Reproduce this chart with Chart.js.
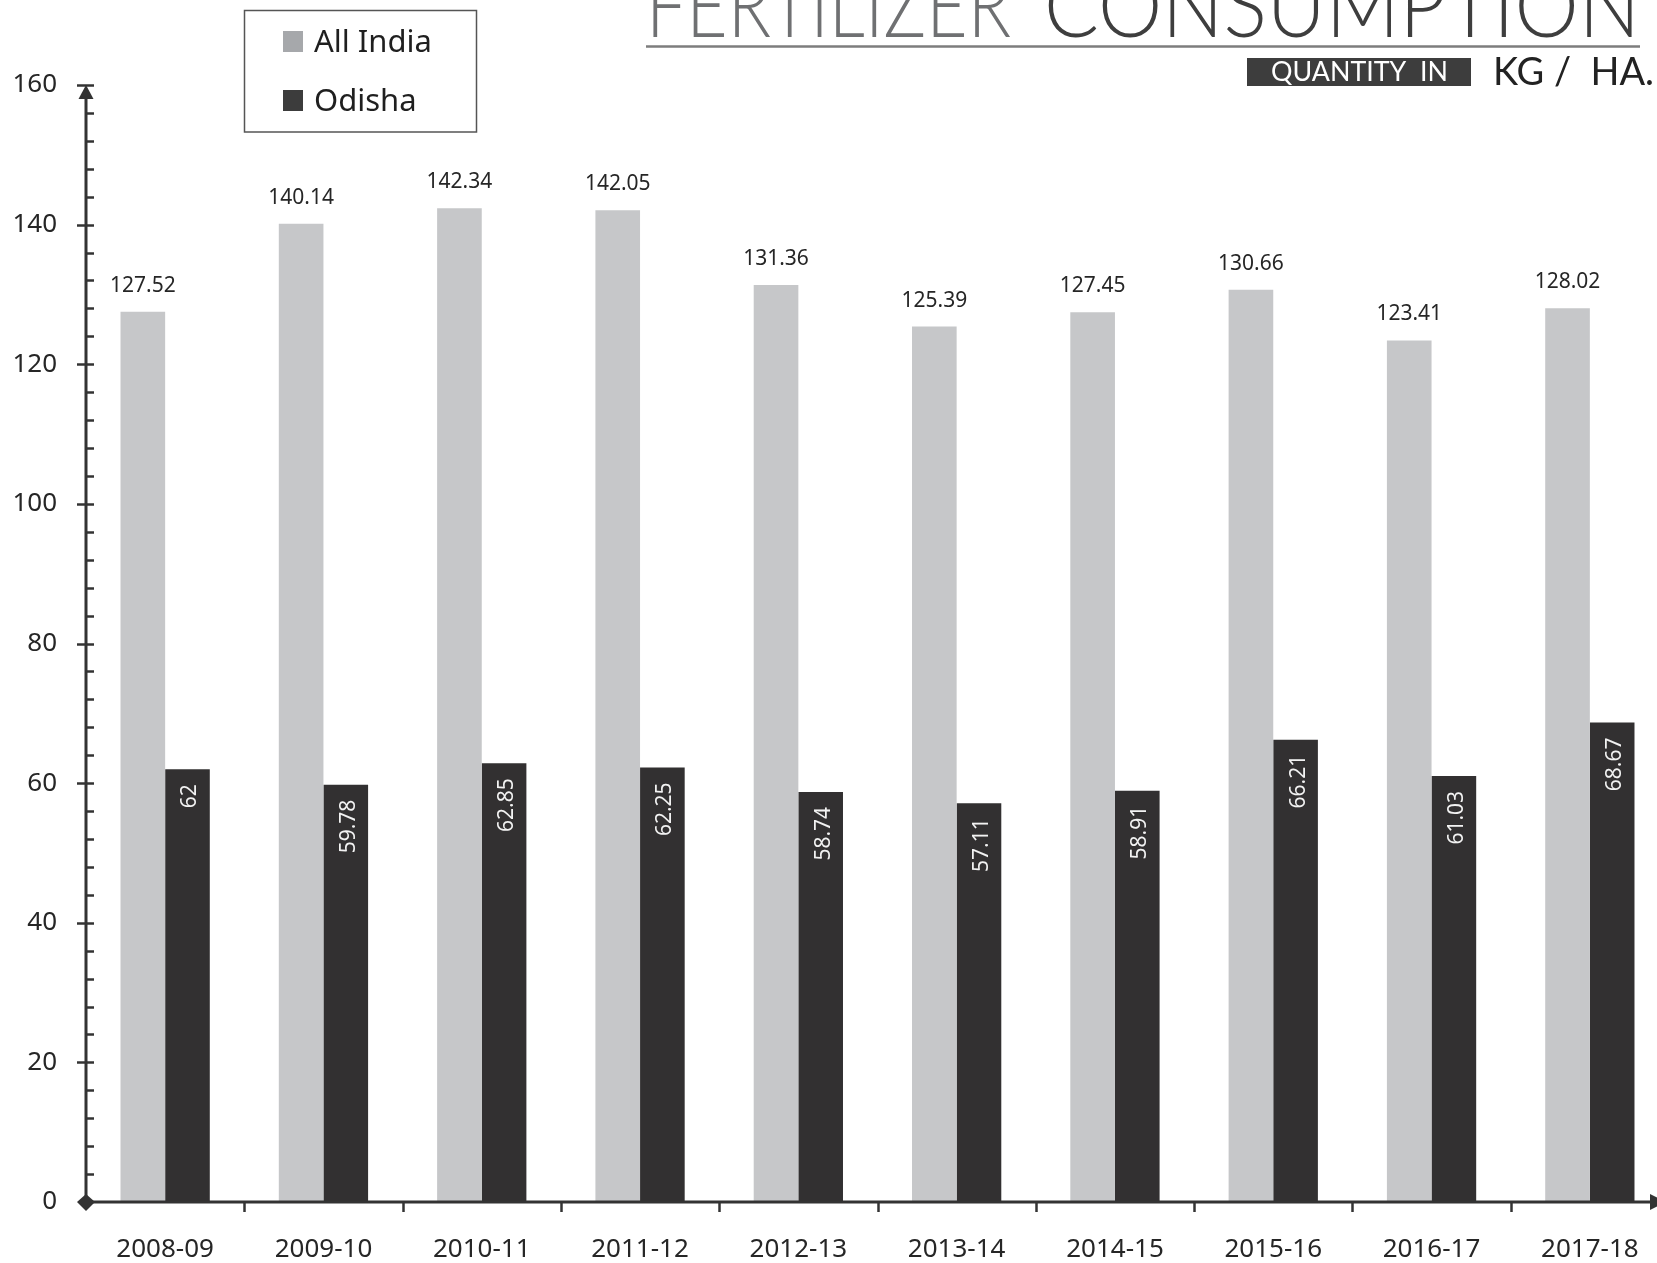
<!DOCTYPE html>
<html>
<head>
<meta charset="utf-8">
<title>Fertilizer Consumption</title>
<script src="https://cdn.jsdelivr.net/npm/chart.js@4.4.0/dist/chart.umd.min.js"></script>
<style>
  html, body { margin: 0; padding: 0; background: #fff; overflow: hidden; }
  #wrap { width: 1657px; height: 1263px; overflow: hidden; position: relative; }
  canvas { position: absolute; left: 0; top: 0; }
</style>
</head>
<body>
<div id="wrap">
  <canvas id="chart" width="1680" height="1263"></canvas>
</div>
<script>
// 資料
const years = ['2008-09', '2009-10', '2010-11', '2011-12', '2012-13', '2013-14', '2014-15', '2015-16', '2016-17', '2017-18'];
const allIndia = [127.52, 140.14, 142.34, 142.05, 131.36, 125.39, 127.45, 130.66, 123.41, 128.02];
const odisha = [62, 59.78, 62.85, 62.25, 58.74, 57.11, 58.91, 66.21, 61.03, 68.67];
const seriesNames = ['All India', 'Odisha'];
const yMax = 160;

const GREY = '#c6c7c9';
const DARK = '#323031';
const AXIS = '#333333';
const TEXT = '#262626';
const FONT = '"Noto Sans", "DejaVu Sans", sans-serif';

// 橫向壓縮文字
function condensedText(ctx, text, x, baseline, width, font, color) {
    ctx.save();
    ctx.font = font;
    ctx.fillStyle = color;
    ctx.textAlign = 'left';
    ctx.textBaseline = 'alphabetic';
    const w = ctx.measureText(text).width;
    ctx.translate(x, baseline);
    ctx.scale(width / w, 1);
    ctx.fillText(text, 0, 0);
    ctx.restore();
}

// 標題、圖例、軸線和數值標籤
const decorations = {
    id: 'decorations',
    afterDatasetsDraw(chart) {
        const ctx = chart.ctx;
        const area = chart.chartArea;
        const x = chart.scales.x;
        const y = chart.scales.y;
        const y0 = y.getPixelForValue(0);
        const yTop = y.getPixelForValue(yMax);

        // 數值標籤
        ctx.save();
        ctx.font = '21px ' + FONT;
        const m0 = chart.getDatasetMeta(0);
        m0.data.forEach((bar, i) => {
            ctx.fillStyle = TEXT;
            ctx.textAlign = 'center';
            ctx.textBaseline = 'middle';
            ctx.fillText(allIndia[i].toFixed(2), bar.x, bar.y - 26);
        });
        const m1 = chart.getDatasetMeta(1);
        m1.data.forEach((bar, i) => {
            ctx.save();
            ctx.translate(bar.x + 3, bar.y + 15);
            ctx.rotate(-Math.PI / 2);
            ctx.fillStyle = '#f2f2f2';
            ctx.textAlign = 'right';
            ctx.textBaseline = 'middle';
            ctx.fillText(String(odisha[i]), 0, 0);
            ctx.restore();
        });
        ctx.restore();

        // 軸線
        ctx.save();
        ctx.strokeStyle = AXIS;
        ctx.fillStyle = AXIS;
        ctx.lineWidth = 3;
        ctx.beginPath();
        ctx.moveTo(area.left, y0);
        ctx.lineTo(area.left, yTop + 6);
        ctx.stroke();
        ctx.beginPath();
        ctx.moveTo(area.left, y0);
        ctx.lineTo(1652, y0);
        ctx.stroke();

        // y 軸刻度
        ctx.lineWidth = 2.5;
        for (let v = 4; v <= yMax; v += 4) {
            const py = Math.round(y.getPixelForValue(v)) + 0.5;
            ctx.beginPath();
            if (v % 20 === 0) {
                ctx.moveTo(area.left - 9, py);
            } else {
                ctx.moveTo(area.left, py);
            }
            ctx.lineTo(area.left + 8, py);
            ctx.stroke();
        }
        // y 軸箭頭
        ctx.beginPath();
        ctx.moveTo(area.left, yTop);
        ctx.lineTo(area.left - 7.5, yTop + 14);
        ctx.lineTo(area.left + 7.5, yTop + 14);
        ctx.closePath();
        ctx.fill();
        // 原點菱形
        ctx.beginPath();
        ctx.moveTo(area.left - 9, y0);
        ctx.lineTo(area.left, y0 - 8);
        ctx.lineTo(area.left + 9, y0);
        ctx.lineTo(area.left, y0 + 9);
        ctx.closePath();
        ctx.fill();
        // x 軸箭頭
        ctx.beginPath();
        ctx.moveTo(1650, y0 - 8);
        ctx.lineTo(1666, y0);
        ctx.lineTo(1650, y0 + 8);
        ctx.closePath();
        ctx.fill();
        // x 軸分隔刻度
        ctx.lineWidth = 2.5;
        for (let i = 0; i < years.length - 1; i++) {
            const px = Math.round((x.getPixelForValue(i) + x.getPixelForValue(i + 1)) / 2) + 0.5;
            ctx.beginPath();
            ctx.moveTo(px, y0);
            ctx.lineTo(px, y0 + 10);
            ctx.stroke();
        }
        ctx.restore();

        // 標題
        condensedText(ctx, 'FERTILIZER', 646, 37, 365, '300 89px Lato, sans-serif', '#6f7072');
        condensedText(ctx, 'CONSUMPTION', 1044, 37, 596, '300 89px Lato, sans-serif', '#3e3e3e');
        ctx.save();
        ctx.strokeStyle = '#7d7d7d';
        ctx.lineWidth = 2.5;
        ctx.beginPath();
        ctx.moveTo(646, 46.5);
        ctx.lineTo(1640, 46.5);
        ctx.stroke();
        ctx.fillStyle = '#3d3d3d';
        ctx.fillRect(1247, 58, 224, 28);
        ctx.restore();
        condensedText(ctx, 'QUANTITY  IN', 1271, 81, 177, '27px Lato, sans-serif', '#ffffff');
        condensedText(ctx, 'KG /  HA.', 1493, 85, 161, '38px Lato, sans-serif', '#222222');

        // 圖例
        ctx.save();
        ctx.strokeStyle = '#555';
        ctx.lineWidth = 1.5;
        ctx.strokeRect(244.5, 10.5, 232, 121.5);
        ctx.fillStyle = '#a6a8ab';
        ctx.fillRect(283, 31, 20, 21);
        ctx.fillStyle = '#3c3c3c';
        ctx.fillRect(283, 90, 20, 21);
        ctx.fillStyle = '#1f1f1f';
        ctx.font = '31px ' + FONT;
        ctx.textAlign = 'left';
        ctx.textBaseline = 'alphabetic';
        ctx.fillText(seriesNames[0], 314, 52);
        ctx.fillText(seriesNames[1], 314, 111);
        ctx.restore();
    }
};

new Chart(document.getElementById('chart'), {
    type: 'bar',
    data: {
        labels: years,
        datasets: [
            { label: seriesNames[0], data: allIndia, backgroundColor: GREY },
            { label: seriesNames[1], data: odisha, backgroundColor: DARK }
        ]
    },
    options: {
        responsive: false,
        devicePixelRatio: 1,
        animation: false,
        layout: { padding: { top: 85, right: 11, left: 0, bottom: 0 } },
        datasets: {
            bar: { categoryPercentage: 0.564, barPercentage: 1 }
        },
        plugins: {
            legend: { display: false },
            tooltip: { enabled: false }
        },
        scales: {
            x: {
                grid: { display: false },
                border: { display: false },
                ticks: {
                    color: TEXT,
                    font: { family: FONT, size: 26 },
                    padding: 24,
                    maxRotation: 0,
                    autoSkip: false
                },
                afterFit: s => { s.height = 61; }
            },
            y: {
                min: 0,
                max: yMax,
                grid: { display: false },
                border: { display: false },
                ticks: {
                    stepSize: 4,
                    autoSkip: false,
                    color: TEXT,
                    font: { family: FONT, size: 26 },
                    padding: 21,
                    callback: v => (v % 20 === 0 ? v : '')
                },
                afterFit: s => { s.width = 86; }
            }
        }
    },
    plugins: [decorations]
});
</script>
</body>
</html>
